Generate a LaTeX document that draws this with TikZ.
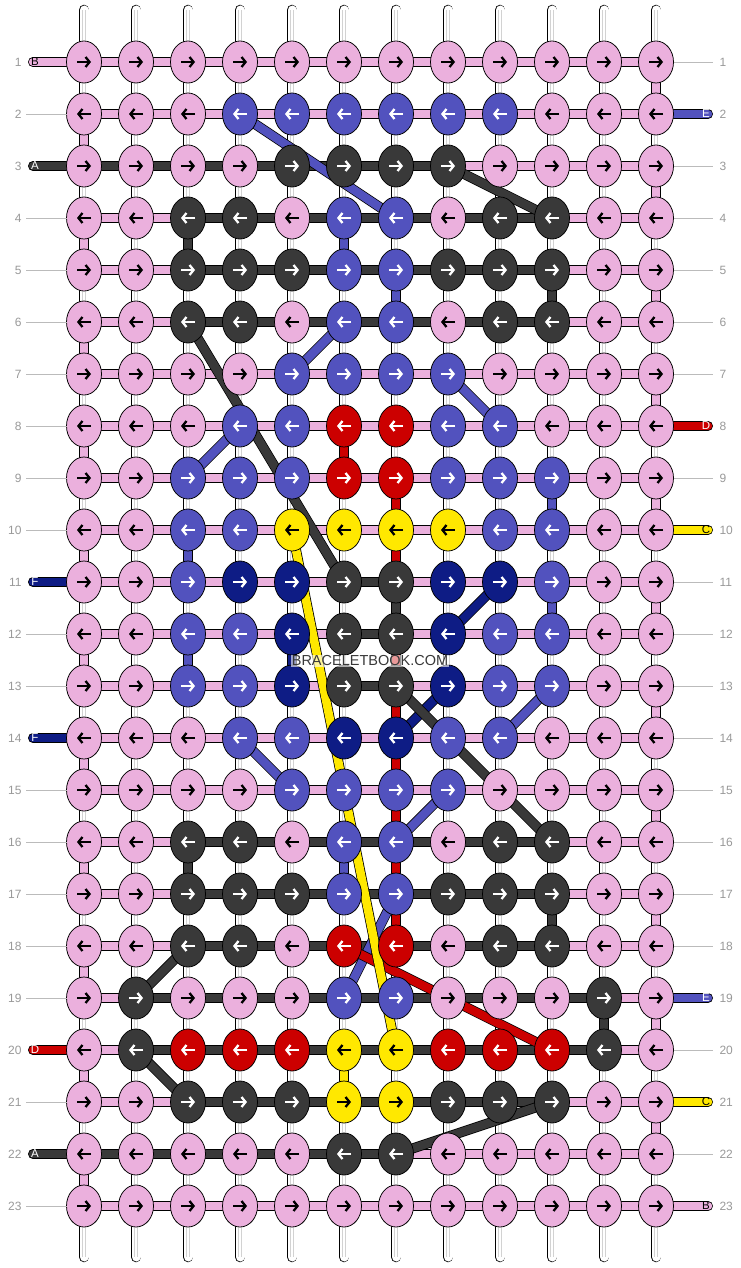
\documentclass[tikz,border=0pt]{standalone}
\usepackage{fontspec}
\setmainfont{Liberation Sans}
\usetikzlibrary{arrows.meta,shapes.geometric}
\definecolor{kP}{HTML}{EBB0DD}
\definecolor{kB}{HTML}{5252BE}
\definecolor{kD}{HTML}{393939}
\definecolor{kR}{HTML}{CC0000}
\definecolor{kY}{HTML}{FFE800}
\definecolor{kN}{HTML}{0E1C85}
\colorlet{aP}{black}
\colorlet{aY}{black}
\colorlet{aB}{white}
\colorlet{aD}{white}
\colorlet{aR}{white}
\colorlet{aN}{white}
\definecolor{rownum}{HTML}{999999}
\definecolor{rowline}{HTML}{BBBBBB}

\begin{document}
\begin{tikzpicture}[x=1pt,y=-1pt,
  base/.style={line width=.75pt,double=white,double distance=9pt,line cap=round},
  seg/.style={line width=.75pt,double=#1,double distance=8.5pt},
  knot/.style={draw,ellipse,line width=.75pt,inner sep=0pt,outer sep=0pt,
    minimum width=35pt,minimum height=42pt,fill=#1},
  arr/.style={line width=2.3pt,-{Straight Barb[length=4pt,width=10pt]},
    shorten <=10.5pt,shorten >=10.5pt},
  num/.style={text=rownum,font=\fontsize{12}{12}\selectfont},
  tag/.style={font=\fontsize{11.5}{11.5}\selectfont}]
\useasboundingbox (0,0) rectangle (740,1268);
\fill[white] (0,0) rectangle (740,1268);

\foreach \c in {1,...,12}{
  \coordinate (t-\c) at ({32+52*\c},10);
  \coordinate (b-\c) at ({32+52*\c},1257);
  \foreach \r in {1,...,23}
    \coordinate (p-\r-\c) at ({32+52*\c},{10+52*\r});
}

\foreach \c in {1,...,12}{
  \draw[base] (t-\c) -- (b-\c);
  \draw[line width=.5pt,draw=gray!35,double=white,double distance=2.5pt] (t-\c) -- (b-\c);
}

\foreach \r in {2,4,...,22}{
  \pgfmathtruncatemacro\rn{\r+1}
  \draw[seg=kP] (p-\r-1) -- (p-\rn-1);
}
\foreach \r in {1,3,...,21}{
  \pgfmathtruncatemacro\rn{\r+1}
  \draw[seg=kP] (p-\r-12) -- (p-\rn-12);
}
\foreach \r/\c/\k in {4/3/D,10/3/B,12/3/B,16/3/D,12/5/N,4/6/B,8/6/R,16/6/B,20/6/Y,
  5/7/B,9/7/R,10/7/R,11/7/D,12/7/R,13/7/R,14/7/R,15/7/R,16/7/R,17/7/R,
  5/10/D,9/10/B,11/10/B,17/10/D,19/11/D}{
  \pgfmathtruncatemacro\rn{\r+1}
  \draw[seg=k\k] (p-\r-\c) -- (p-\rn-\c);
}

\foreach \r/\ss in {
  1/{P,P,P,P,P,P,P,P,P,P,P},
  2/{P,P,P,P,P,P,P,P,P,P,P},
  3/{D,D,D,D,D,D,D,P,P,P,P},
  4/{P,P,D,D,D,D,D,D,D,P,P},
  5/{P,P,D,D,D,D,D,D,D,P,P},
  6/{P,P,D,D,D,D,D,D,D,P,P},
  7/{P,P,P,P,P,P,P,P,P,P,P},
  8/{P,P,P,P,P,P,P,P,P,P,P},
  9/{P,P,P,P,P,P,P,P,P,P,P},
  10/{P,P,P,P,P,P,P,P,P,P,P},
  11/{P,P,P,P,P,D,P,P,P,P,P},
  12/{P,P,P,P,P,D,P,P,P,P,P},
  13/{P,P,P,P,P,D,P,P,P,P,P},
  14/{P,P,P,P,P,P,P,P,P,P,P},
  15/{P,P,P,P,P,P,P,P,P,P,P},
  16/{P,P,D,D,D,D,D,D,D,P,P},
  17/{P,P,D,D,D,D,D,D,D,P,P},
  18/{P,P,D,D,D,D,D,D,D,P,P},
  19/{P,D,D,D,D,D,D,D,D,D,P},
  20/{P,D,D,D,D,D,D,D,D,D,P},
  21/{P,P,D,D,D,D,D,D,D,P,P},
  22/{D,D,D,D,D,D,P,P,P,P,P},
  23/{P,P,P,P,P,P,P,P,P,P,P}}{
  \foreach \s [count=\c] in \ss {
    \pgfmathtruncatemacro\cn{\c+1}
    \draw[seg=k\s] (p-\r-\c) -- (p-\r-\cn);
  }
}

\foreach \r/\k/\t in {1/P/B,3/D/A,11/N/F,14/N/F,20/R/D,22/D/A}{
  \coordinate (lt-\r) at (33,{10+52*\r});
  \draw[seg=k\k,line cap=round] (lt-\r) -- (p-\r-1);
}
\foreach \r/\k/\t in {2/B/E,8/R/D,10/Y/C,19/B/E,21/Y/C,23/P/B}{
  \coordinate (rt-\r) at (708,{10+52*\r});
  \draw[seg=k\k,line cap=round] (p-\r-12) -- (rt-\r);
}

\draw[seg=kB] (p-2-4) -- (p-4-7);
\draw[seg=kB] (p-6-6) -- (p-7-5);
\draw[seg=kB] (p-7-8) -- (p-8-9);
\draw[seg=kB] (p-8-4) -- (p-9-3);
\draw[seg=kB] (p-13-10) -- (p-14-9);
\draw[seg=kB] (p-14-4) -- (p-15-5);
\draw[seg=kB] (p-15-8) -- (p-16-7);
\draw[seg=kB] (p-17-7) -- (p-19-6);
\draw[seg=kN] (p-11-9) -- (p-12-8);
\draw[seg=kN] (p-13-8) -- (p-14-7);
\draw[seg=kD] (p-3-8) -- (p-4-10);
\draw[seg=kD] (p-6-3) -- (p-11-6);
\draw[seg=kD] (p-13-7) -- (p-16-10);
\draw[seg=kD] (p-18-3) -- (p-19-2);
\draw[seg=kD] (p-20-2) -- (p-21-3);
\draw[seg=kD] (p-22-7) -- (p-21-10);
\draw[seg=kR] (p-18-6) -- (p-20-10);
\draw[seg=kY] (p-10-5) -- (p-20-7);

\foreach \r/\ks in {
  1/{P,P,P,P,P,P,P,P,P,P,P,P},
  2/{P,P,P,B,B,B,B,B,B,P,P,P},
  3/{P,P,P,P,D,D,D,D,P,P,P,P},
  4/{P,P,D,D,P,B,B,P,D,D,P,P},
  5/{P,P,D,D,D,B,B,D,D,D,P,P},
  6/{P,P,D,D,P,B,B,P,D,D,P,P},
  7/{P,P,P,P,B,B,B,B,P,P,P,P},
  8/{P,P,P,B,B,R,R,B,B,P,P,P},
  9/{P,P,B,B,B,R,R,B,B,B,P,P},
  10/{P,P,B,B,Y,Y,Y,Y,B,B,P,P},
  11/{P,P,B,N,N,D,D,N,N,B,P,P},
  12/{P,P,B,B,N,D,D,N,B,B,P,P},
  13/{P,P,B,B,N,D,D,N,B,B,P,P},
  14/{P,P,P,B,B,N,N,B,B,P,P,P},
  15/{P,P,P,P,B,B,B,B,P,P,P,P},
  16/{P,P,D,D,P,B,B,P,D,D,P,P},
  17/{P,P,D,D,D,B,B,D,D,D,P,P},
  18/{P,P,D,D,P,R,R,P,D,D,P,P},
  19/{P,D,P,P,P,B,B,P,P,P,D,P},
  20/{P,D,R,R,R,Y,Y,R,R,R,D,P},
  21/{P,P,D,D,D,Y,Y,D,D,D,P,P},
  22/{P,P,P,P,P,D,D,P,P,P,P,P},
  23/{P,P,P,P,P,P,P,P,P,P,P,P}}{
  \ifodd\r\relax\def\from{west}\def\to{east}\else\def\from{east}\def\to{west}\fi
  \foreach \k [count=\c] in \ks {
    \node[knot=k\k] (k-\r-\c) at (p-\r-\c) {};
    \draw[arr,draw=a\k] (k-\r-\c.\from) -- (k-\r-\c.\to);
  }
}

\foreach \r in {1,...,23}{
  \node[num,anchor=east] (ln-\r) at (25,{10+52*\r}) {\r};
  \node[num,anchor=west] (rn-\r) at (716,{10+52*\r}) {\r};
}
\foreach \r in {2,4,5,6,7,8,9,10,12,13,15,16,17,18,19,21,23}
  \draw[rowline,line width=.8pt,shorten <=1pt] (ln-\r.east) -- (k-\r-1.west);
\foreach \r in {1,3,4,5,6,7,9,11,12,13,14,15,16,17,18,20,22}
  \draw[rowline,line width=.8pt,shorten >=3pt] (k-\r-12.east) -- (rn-\r.west);

\foreach \r/\k/\t in {1/P/B,3/D/A,11/N/F,14/N/F,20/R/D,22/D/A}
  \node[tag,text=a\k] (lx-\r) at ([xshift=2pt]lt-\r) {\t};
\foreach \r/\k/\t in {2/B/E,8/R/D,10/Y/C,19/B/E,21/Y/C,23/P/B}
  \node[tag,text=a\k] (rx-\r) at ([xshift=-2pt]rt-\r) {\t};

\node[fill=white,fill opacity=.6,text opacity=1,text=kD,inner sep=1pt,
  font=\fontsize{14.5}{14.5}\selectfont] (mark) at (370,661) {BRACELETBOOK.COM};
\end{tikzpicture}
\end{document}
